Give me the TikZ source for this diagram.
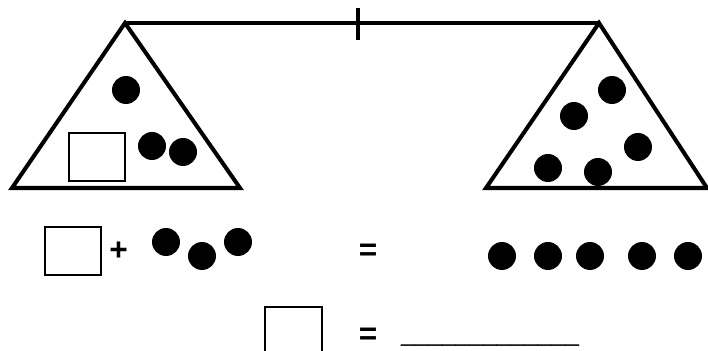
\documentclass[tikz,border=0pt]{standalone}
\usepackage{fontspec}
\setmainfont{Liberation Sans}
\begin{document}
\begin{tikzpicture}[x=0.02cm,y=-0.02cm,
  pan/.style={line width=2.3pt,line join=miter},
  dot/.style={circle,fill,inner sep=0pt,minimum size=0.56cm},
  box/.style={draw,line width=0.9pt,inner sep=0pt,minimum width=1.13cm,minimum height=0.97cm},
  sign/.style={font=\fontsize{18}{20}\selectfont\bfseries}]
\useasboundingbox (0,0) rectangle (708,351);
% beam and pivot
\coordinate (L) at (125,23); \coordinate (R) at (599,23);
\draw[pan] (L) -- (R);
\draw[pan] (358,8) -- (358,40);
% left pan
\draw[pan] (L) -- (12,188) -- (240,188) -- cycle;
\node[box] (xa) at (97,157) {};
\node[dot] (a1) at (126,90) {};
\node[dot] (a2) at (152,146) {};
\node[dot] (a3) at (183,152) {};
% right pan
\draw[pan] (R) -- (486,188) -- (707,188) -- cycle;
\node[dot] (b1) at (612,90) {};
\node[dot] (b2) at (574,116) {};
\node[dot] (b3) at (638,147) {};
\node[dot] (b4) at (548,168) {};
\node[dot] (b5) at (598,172) {};
% first equation
\node[box] (xb) at (73,251) {};
\node[sign] (plus) at (118.5,251) {+};
\node[dot] (c1) at (166,242) {};
\node[dot] (c2) at (202,256) {};
\node[dot] (c3) at (238,242) {};
\node[sign] (eq1) at (368,252) {=};
\foreach \x [count=\i] in {502,548,590,642,688}
  \node[dot] (d\i) at (\x,256) {};
% second equation
\draw[line width=0.9pt] (265,352) -- (265,307) -- (322,307) -- (322,352);
\node[sign] (eq2) at (368,336) {=};
\node[font=\fontsize{14}{16}\selectfont,anchor=base west] (blank) at (395,342) {\_\_\_\_\_\_\_\_\_\_\_\_\_};
\end{tikzpicture}
\end{document}
